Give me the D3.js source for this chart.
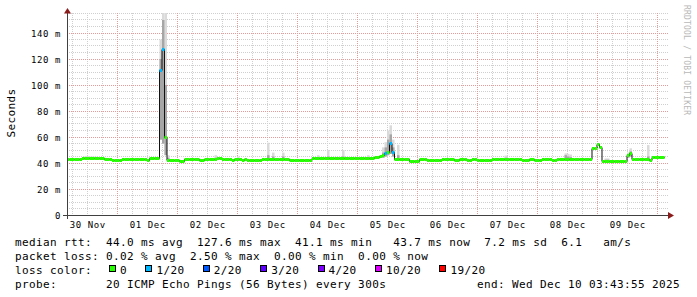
<!DOCTYPE html>
<html>
<head>
<meta charset="utf-8">
<script src="https://cdn.jsdelivr.net/npm/d3@7"></script>
<style>
  body { margin: 0; background: #fff; }
  text { font-family: "DejaVu Sans Mono", monospace; }
</style>
</head>
<body>
<svg id="chart" width="697" height="297"></svg>
<script>
// smokeping style latency graph, 10 days, one value per hour

var startTime = new Date(2025, 10, 30, 3, 43, 55);
var endTime = new Date(2025, 11, 10, 3, 43, 55);

// median rtt in ms, one per hour from startTime
var medianRtt = [
  43,43,43,43,43,43,43.7,43.7,43.7,43.7,43.7,43.7,43.7,43.7,43.7,43,43,43,42,42,42,42,43,42.5,
  43,43,43,43,43,43,43,43,42.3,43.7,43.7,43.7,43.7,111.5,127.6,60,42,42,42,42,42,41,41,42.5,
  42.7,42.7,42.7,42.7,42.7,42,42,42.7,42.7,42.7,42.7,42.7,43.7,43.7,42.7,42.7,42.7,42.7,42.3,42.7,42.7,42.7,42.3,42.7,
  42.3,42.3,42,42,42,42,42.7,42.7,42.7,42.7,42.7,42.7,42.7,42.7,42.7,42.7,42.7,42,42,42,42,42,42,42,
  42,42,43.3,43.3,43.3,43.3,43.3,43.3,43.3,43.3,43.3,43.3,43.3,43.3,43.3,43.3,43.3,43.3,43.3,43.3,43.3,43.3,43.3,43.3,
  43.3,43.3,43.3,44,44,45,46,47.5,48,55,48,42.7,42.7,42.7,42.7,42.7,42.7,41.5,41.5,41.5,41.5,42.7,42.7,42.7,
  42.3,42.3,42.3,42.3,42.3,42.3,42.7,42.7,42.7,42.7,42.7,42.2,42.2,42.7,42.7,42.7,42.2,42.2,42.7,42.7,42.2,42.2,42.2,42.2,
  42.2,42.2,42.7,42.7,42.7,42.7,42.7,42.7,42.7,42.7,42.7,42.7,42.7,42.7,42,42,42,42.7,42.7,42,42,42,42.7,42.7,
  42.7,42.7,42,42,42.7,42.7,42.7,42.7,42.7,42.7,42.7,42.7,42.7,42.7,42.7,42.7,42.7,42.7,51,51,54.4,52,41.5,41.5,
  41.5,41.5,41.5,41.5,41.5,41.5,41.5,41.5,46,47.4,42.7,42.7,42.7,42.7,42.7,42.7,42.7,42,44.3,44.3,44.3,44.3,44.3,null
];

// hours with packet loss (count out of 20)
var lossHours = [37, 38, 127, 129, 130];
var lossCounts = [1, 1, 1, 1, 1];

// smoke: spread of the 20 pings for hours where it shows above the median
var smokeHours = [7,8,9,10,11,37,38,39,40,59,68,80,82,86,100,104,110,120,126,127,128,129,130,132,175,199,200,201,215,216,224,225,232,234,235,236,237,238];
var smokeMin   = [43,43,43,43,43,58,55,46,42,42,42,42,42,42,42.5,42.5,42.5,42.5,44,45,46,47,45,42,42,42,42,42,41,41,44,45,42,43.5,43.5,43.5,43.5,43.5];
var smokeInner = [44.5,44.5,44.5,44.3,44.3,120,150,100,44,44,43.5,46,45,45,44,45,45,44,48,52,58,62,52,46,44,46,45,44.5,42.5,42.5,47,49,45,45,45,45,45,45];
var smokeMax   = [45.3,45.3,45,45,44.8,135,160,160,46,46,45,55.6,48,48,46,50,50,46,52,56,65,69,58,54,45.7,47.4,47,46.5,43.5,43.5,48,51.3,53.8,45.3,45.3,45.3,45.3,45.3];

var lossLabels = ['0', '1/20', '2/20', '3/20', '4/20', '10/20', '19/20'];
var lossSteps  = [0, 1, 2, 3, 4, 10, 19];
var lossColors = ['#26ff00', '#00b8ff', '#0059ff', '#5e00ff', '#7e00ff', '#dd00ff', '#ff0000'];

var statsLine = 'median rtt:  44.0 ms avg  127.6 ms max  41.1 ms min   43.7 ms now  7.2 ms sd  6.1   am/s';
var lossLine  = 'packet loss: 0.02 % avg  2.50 % max  0.00 % min  0.00 % now';
var probeLine = 'probe:       20 ICMP Echo Pings (56 Bytes) every 300s';
var endLine   = 'end: Wed Dec 10 03:43:55 2025';

var svg = d3.select('#chart');

var plotLeft = 67, plotRight = 667, plotTop = 13, plotBottom = 215;
var x = d3.scaleTime().domain([startTime, endTime]).range([plotLeft, plotRight]);
var y = d3.scaleLinear().domain([0, 155]).range([plotBottom, 13.5]);

function hourTime(h) { return d3.timeHour.offset(startTime, h); }
function crisp(v) { return Math.floor(v) + 0.5; }

function colorForLoss(n) {
  var c = lossColors[0];
  lossSteps.forEach(function(s, i) { if (n >= s) c = lossColors[i]; });
  return c;
}

svg.append('rect').attr('width', 697).attr('height', 297).attr('fill', '#fff');

svg.append('clipPath').attr('id', 'plot')
  .append('rect').attr('x', plotLeft).attr('y', plotTop)
  .attr('width', plotRight - plotLeft).attr('height', plotBottom - plotTop);

// ---- grid: 5 m / 6 h minor, 20 m / 1 day major
var grid = svg.append('g').attr('shape-rendering', 'crispEdges');

var minorY = d3.range(5, y.domain()[1] + 1, 5), majorY = y.ticks(7);
grid.selectAll('.hminor').data(minorY.filter(function(d) { return majorY.indexOf(d) < 0; }))
  .enter().append('line')
  .attr('x1', plotLeft).attr('x2', plotRight + 2)
  .attr('y1', function(d) { return crisp(y(d)); }).attr('y2', function(d) { return crisp(y(d)); })
  .attr('stroke', '#cfcfcf').attr('stroke-dasharray', '1,1');

var minorX = d3.timeHour.every(6).range(startTime, endTime);
grid.selectAll('.vminor').data(minorX.filter(function(d) { return d.getHours() !== 0; }))
  .enter().append('line')
  .attr('x1', function(d) { return crisp(x(d)); }).attr('x2', function(d) { return crisp(x(d)); })
  .attr('y1', plotTop).attr('y2', plotBottom)
  .attr('stroke', '#cfcfcf').attr('stroke-dasharray', '1,1');

grid.selectAll('.hmajor').data(majorY.filter(function(d) { return d > 0; }))
  .enter().append('line')
  .attr('x1', plotLeft).attr('x2', plotRight + 2)
  .attr('y1', function(d) { return crisp(y(d)); }).attr('y2', function(d) { return crisp(y(d)); })
  .attr('stroke', '#e59a9a').attr('stroke-dasharray', '1,1');

var days = d3.timeDay.range(d3.timeDay.ceil(startTime), endTime);
grid.selectAll('.vmajor').data(days)
  .enter().append('line')
  .attr('x1', function(d) { return crisp(x(d)); }).attr('x2', function(d) { return crisp(x(d)); })
  .attr('y1', plotTop).attr('y2', plotBottom)
  .attr('stroke', '#e59a9a').attr('stroke-dasharray', '1,1');

// ---- smoke
var plot = svg.append('g').attr('clip-path', 'url(#plot)');

var smoke = smokeHours.map(function(h, i) {
  return { h: h, lo: smokeMin[i], mid: smokeInner[i], hi: smokeMax[i] };
});

plot.selectAll('.smoke').data(smoke).enter().append('rect')
  .attr('x', function(d) { return x(hourTime(d.h)); })
  .attr('width', function(d) { return x(hourTime(d.h + 1)) - x(hourTime(d.h)); })
  .attr('y', function(d) { return y(d.hi); })
  .attr('height', function(d) { return y(d.lo) - y(d.hi); })
  .attr('fill', '#dadada');

plot.selectAll('.smokein').data(smoke).enter().append('rect')
  .attr('x', function(d) { return x(hourTime(d.h)); })
  .attr('width', function(d) { return x(hourTime(d.h + 1)) - x(hourTime(d.h)); })
  .attr('y', function(d) { return y(d.mid); })
  .attr('height', function(d) { return Math.max(0, y(d.lo) - y(d.mid)); })
  .attr('fill', '#a6a6a6');

// ---- median: thin black step line, then loss coloured segments on top
var steps = [];
medianRtt.forEach(function(v, h) {
  steps.push({ t: hourTime(h), v: v });
  steps.push({ t: hourTime(h + 1), v: v });
});

var stepLine = d3.line()
  .defined(function(d) { return d.v != null; })
  .x(function(d) { return x(d.t); })
  .y(function(d) { return crisp(y(d.v)); });

plot.append('path').datum(steps)
  .attr('d', stepLine)
  .attr('fill', 'none').attr('stroke', '#111').attr('stroke-width', 1);

var bins = medianRtt.map(function(v, h) {
  var k = lossHours.indexOf(h);
  return { h: h, v: v, loss: k < 0 ? 0 : lossCounts[k] };
}).filter(function(d) { return d.v != null; });

plot.selectAll('.median').data(bins).enter().append('line')
  .attr('x1', function(d) { return x(hourTime(d.h)); })
  .attr('x2', function(d) { return x(hourTime(d.h + 1)); })
  .attr('y1', function(d) { return crisp(y(d.v)); })
  .attr('y2', function(d) { return crisp(y(d.v)); })
  .attr('stroke', function(d) { return colorForLoss(d.loss); })
  .attr('stroke-width', 3);

// ---- axes
var axes = svg.append('g').attr('shape-rendering', 'crispEdges');
axes.append('line').attr('x1', plotLeft + 0.5).attr('x2', plotLeft + 0.5)
  .attr('y1', plotBottom + 4).attr('y2', plotTop - 2)
  .attr('stroke', '#404040');
axes.append('line').attr('x1', plotLeft - 4).attr('x2', plotRight + 2)
  .attr('y1', plotBottom + 0.5).attr('y2', plotBottom + 0.5)
  .attr('stroke', '#404040');

svg.append('path').attr('d', 'M64,13.5L71,13.5L67.5,8Z').attr('fill', '#8a1c1c');
svg.append('path').attr('d', 'M668,212L668,219L674,215.5Z').attr('fill', '#8a1c1c');

// tick labels
svg.selectAll('.ylab').data(majorY).enter().append('text')
  .attr('x', 61).attr('y', function(d) { return y(d) + 3.5; })
  .attr('text-anchor', 'end')
  .attr('font-size', 9).attr('letter-spacing', 0.58)
  .attr('fill', '#000')
  .text(function(d) { return d === 0 ? '0' : d + ' m'; });

var noons = d3.timeDay.range(d3.timeDay.floor(startTime), endTime)
  .map(function(d) { return d3.timeHour.offset(d, 12); })
  .filter(function(d) { return d > startTime && d < endTime; });

svg.selectAll('.xlab').data(noons).enter().append('text')
  .attr('x', function(d) { return x(d); }).attr('y', 227.5)
  .attr('text-anchor', 'middle')
  .attr('font-size', 9).attr('letter-spacing', 0.58)
  .attr('fill', '#000')
  .text(d3.timeFormat('%d %b'));

svg.append('text')
  .attr('transform', 'translate(15,113) rotate(-90)')
  .attr('text-anchor', 'middle')
  .attr('font-size', 11).attr('letter-spacing', 0.38)
  .text('Seconds');

svg.append('text')
  .attr('transform', 'translate(684,5) rotate(90)')
  .attr('font-size', 8).attr('letter-spacing', 0.2)
  .attr('fill', '#b8b8b8')
  .text('RRDTOOL / TOBI OETIKER');

// ---- legend
function legendText(str, lx, ly) {
  svg.append('text')
    .attr('x', lx).attr('y', ly)
    .attr('font-size', 11).attr('letter-spacing', 0.38)
    .attr('xml:space', 'preserve').style('white-space', 'pre')
    .attr('fill', '#000')
    .text(str);
}

legendText(statsLine, 15, 245.5);
legendText(lossLine, 15, 259.5);
legendText('loss color:', 15, 273.5);
legendText(probeLine, 15, 287.5);
legendText(endLine, 477, 287.5);

var lx = 109.5;
lossLabels.forEach(function(lab, i) {
  svg.append('rect')
    .attr('x', lx).attr('y', 265.5).attr('width', 6).attr('height', 6)
    .attr('fill', lossColors[i]).attr('stroke', '#000').attr('shape-rendering', 'crispEdges');
  legendText(lab, lx + 10.5, 273.5);
  lx += 11 + lab.length * 7 + 18.4;
});
</script>
</body>
</html>
